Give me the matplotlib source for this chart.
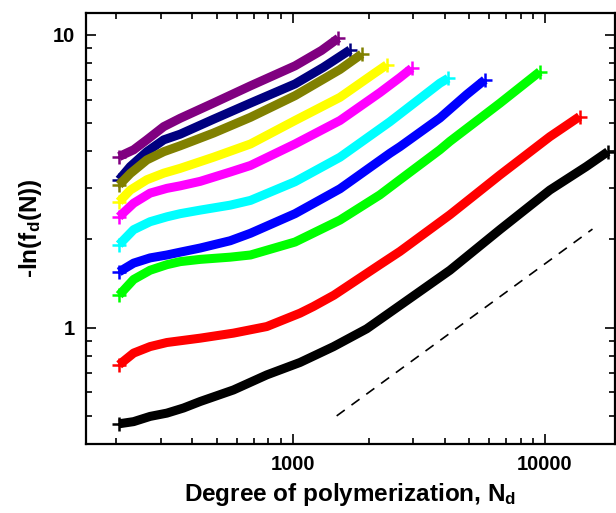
import matplotlib
matplotlib.use("Agg")
import matplotlib.pyplot as plt
from matplotlib.ticker import FixedLocator, FuncFormatter, NullFormatter

plt.rcParams['font.family'] = ['Liberation Sans', 'DejaVu Sans']
plt.rcParams['font.weight'] = 'bold'
plt.rcParams['mathtext.fontset'] = 'custom'
plt.rcParams['mathtext.rm'] = 'Liberation Sans:bold'
plt.rcParams['mathtext.it'] = 'Liberation Sans:bold'
plt.rcParams['mathtext.bf'] = 'Liberation Sans:bold'

# curves, top curve first
n_purple = [205, 234, 264, 308, 358, 485, 680, 1021, 1300, 1517]
y_purple = [3.84, 4.05, 4.38, 4.86, 5.19, 5.85, 6.70, 7.84, 8.85, 9.75]

n_navy = [205, 227, 264, 308, 358, 485, 680, 1021, 1322, 1687]
y_navy = [3.20, 3.55, 3.99, 4.38, 4.58, 5.15, 5.85, 6.80, 7.75, 8.89]

n_olive = [205, 227, 264, 308, 358, 485, 680, 1021, 1539, 1875]
y_olive = [3.07, 3.36, 3.74, 3.99, 4.18, 4.62, 5.23, 6.20, 7.62, 8.60]

n_yellow = [205, 227, 264, 308, 358, 485, 680, 1021, 1539, 2086, 2356]
y_yellow = [2.69, 2.95, 3.20, 3.37, 3.50, 3.82, 4.24, 5.10, 6.12, 7.35, 7.90]

n_magenta = [205, 234, 272, 317, 358, 430, 565, 680, 1021, 1539, 2214, 2660, 2958]
y_magenta = [2.39, 2.66, 2.88, 2.99, 3.05, 3.16, 3.40, 3.58, 4.24, 5.10, 6.35, 7.15, 7.69]

n_cyan = [205, 234, 272, 317, 358, 430, 565, 680, 1021, 1539, 2427, 3830, 4131]
y_cyan = [1.92, 2.16, 2.30, 2.39, 2.45, 2.52, 2.62, 2.72, 3.15, 3.82, 5.05, 6.84, 7.11]

n_blue = [205, 234, 272, 317, 358, 430, 565, 680, 1021, 1539, 2427, 2660, 3830, 4886, 5770]
y_blue = [1.55, 1.66, 1.73, 1.77, 1.81, 1.87, 1.98, 2.10, 2.45, 2.98, 3.94, 4.15, 5.20, 6.25, 7.02]

n_green = [205, 234, 272, 317, 358, 430, 565, 680, 1021, 1539, 2214, 2660, 3830, 4200, 6620, 9530]
y_green = [1.29, 1.46, 1.57, 1.64, 1.68, 1.71, 1.74, 1.77, 1.96, 2.33, 2.84, 3.20, 4.05, 4.33, 5.84, 7.49]

n_red = [205, 234, 272, 317, 430, 582, 789, 1069, 1207, 1456, 2214, 2660, 4200, 6620, 10450, 13700]
y_red = [0.746, 0.818, 0.861, 0.889, 0.920, 0.957, 1.008, 1.12, 1.18, 1.29, 1.64, 1.82, 2.43, 3.32, 4.49, 5.26]

n_black = [205, 234, 272, 317, 369, 430, 582, 789, 1069, 1448, 1963, 2660, 4200, 6620, 10450, 14580, 17740]
y_black = [0.469, 0.477, 0.497, 0.510, 0.531, 0.559, 0.612, 0.689, 0.76, 0.86, 0.99, 1.19, 1.57, 2.16, 2.95, 3.55, 3.99]

# guide line
n_guide = [1493, 15420]
y_guide = [0.499, 2.17]

curves = [
    (n_purple, y_purple, '#800080'),
    (n_navy, y_navy, '#000080'),
    (n_olive, y_olive, '#808000'),
    (n_yellow, y_yellow, '#ffff00'),
    (n_magenta, y_magenta, '#ff00ff'),
    (n_cyan, y_cyan, '#00ffff'),
    (n_blue, y_blue, '#0000ff'),
    (n_green, y_green, '#00ff00'),
    (n_red, y_red, '#ff0000'),
    (n_black, y_black, '#000000'),
]

fig = plt.figure(figsize=(6.16, 5.13), dpi=100)
ax = fig.add_axes([0.139, 0.1345, 0.859, 0.8405])

for n, y, c in curves:
    ax.plot(n, y, '-', color=c, lw=6.5, solid_capstyle='butt', solid_joinstyle='round')
    ax.plot(n, y, '+', color=c, ms=10, mew=1.8, markevery=[0, len(n) - 1])

ax.plot(n_guide, y_guide, '--', color='black', lw=1.2, dashes=(6, 5))

ax.set_xscale('log')
ax.set_yscale('log')
ax.set_xlim(151, 18900)
ax.set_ylim(0.40, 11.9)

ax.xaxis.set_major_locator(FixedLocator([1000, 10000]))
ax.xaxis.set_minor_locator(FixedLocator([200, 300, 400, 500, 600, 700, 800, 900,
                                         2000, 3000, 4000, 5000, 6000, 7000, 8000, 9000]))
ax.yaxis.set_major_locator(FixedLocator([1, 10]))
ax.yaxis.set_minor_locator(FixedLocator([0.4, 0.5, 0.6, 0.7, 0.8, 0.9,
                                         2, 3, 4, 5, 6, 7, 8, 9]))
fmt = FuncFormatter(lambda v, _: '%g' % v)
ax.xaxis.set_major_formatter(fmt)
ax.yaxis.set_major_formatter(fmt)
ax.xaxis.set_minor_formatter(NullFormatter())
ax.yaxis.set_minor_formatter(NullFormatter())

ax.tick_params(which='both', direction='in', top=True, right=True, width=1.2)
ax.tick_params(which='major', length=7, labelsize=14.5, pad=8)
ax.tick_params(which='minor', length=4)
for s in ax.spines.values():
    s.set_linewidth(1.6)

ax.set_xlabel('Degree of polymerization, N$_d$', fontsize=17.5, fontweight='bold', labelpad=5)
ax.set_ylabel('-ln(f$_d$(N))', fontsize=17.5, fontweight='bold', labelpad=6)

fig.savefig('out.png', dpi=100)
